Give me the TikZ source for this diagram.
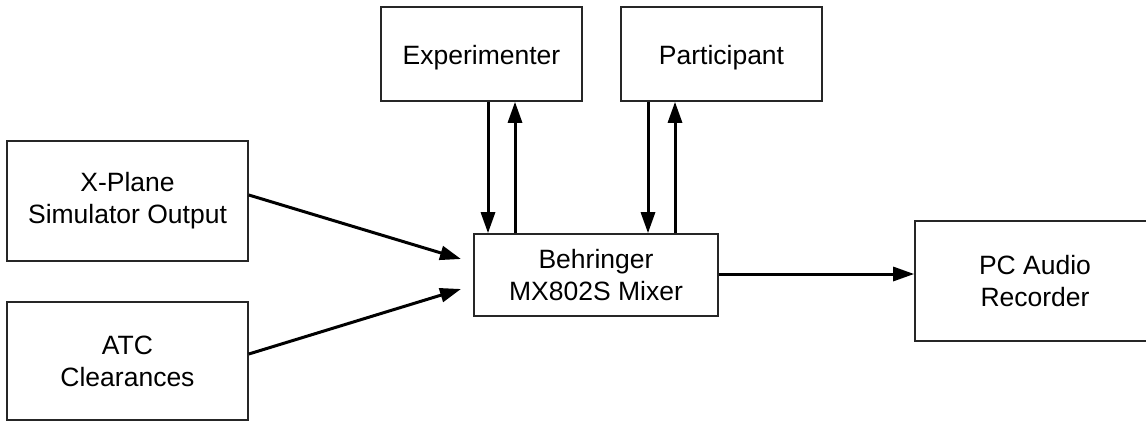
\documentclass[tikz,border=0pt]{standalone}
\usepackage{fontspec}
\setmainfont{Liberation Sans}
\usetikzlibrary{arrows.meta}
\begin{document}
\begin{tikzpicture}[x=1pt,y=-1pt,
  blk/.style={draw=black!85,line width=1.6pt,fill=white,inner sep=0pt,align=center,
     font=\fontsize{26.5}{32}\selectfont,
     execute at begin node={\rule{0pt}{25.5pt}}},
  arr/.style={line width=3pt,-{Triangle[length=21pt,width=14pt]}}]
\useasboundingbox (0,0) rectangle (1146,421);
\clip (0,0) rectangle (1146,421);
\node[blk,minimum width=201pt,minimum height=94pt] (ex) at (481.5,54) {Experimenter};
\node[blk,minimum width=201pt,minimum height=94pt] (pa) at (721.5,54) {Participant};
\node[blk,minimum width=241pt,minimum height=120pt] (xp) at (127.5,201) {X-Plane\\Simulator Output};
\node[blk,minimum width=241pt,minimum height=118pt] (atc) at (127.5,361) {ATC\\Clearances};
\node[blk,minimum width=244pt,minimum height=82pt] (mix) at (596,275) {Behringer\\MX802S Mixer};
\node[blk,minimum width=240pt,minimum height=120pt] (pc) at (1035,281) {PC Audio\\Recorder};
\coordinate (in1) at (461,259);
\coordinate (in2) at (461,289);
\draw[arr] ([yshift=6pt]xp.east) -- (in1);
\draw[arr] ([yshift=7pt]atc.east) -- (in2);
\draw[arr] ([xshift=6.5pt]ex.south) -- ([xshift=6.5pt]ex.south |- mix.north);
\draw[arr] ([xshift=33.5pt]ex.south |- mix.north) -- ([xshift=33.5pt]ex.south);
\draw[arr] ([xshift=-73.5pt]pa.south) -- ([xshift=-73.5pt]pa.south |- mix.north);
\draw[arr] ([xshift=-46.5pt]pa.south |- mix.north) -- ([xshift=-46.5pt]pa.south);
\draw[arr] ([yshift=1pt]mix.east) -- ([yshift=1pt]mix.east -| pc.west);
\end{tikzpicture}
\end{document}
